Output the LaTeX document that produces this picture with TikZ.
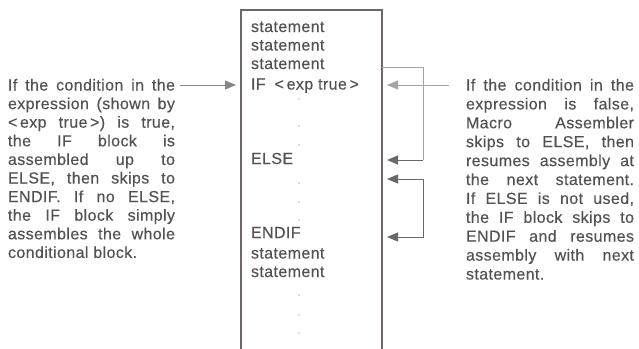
\documentclass[tikz,border=0pt]{standalone}
\usepackage{fontspec}
\setmainfont{Liberation Sans}[LetterSpace=2.5,FakeBold=0.35]
\usetikzlibrary{arrows.meta}
\definecolor{txt}{HTML}{555055}
\definecolor{ln}{HTML}{6E656D}
\definecolor{lnlight}{HTML}{A8A2A8}
\definecolor{dotc}{HTML}{BDB8BD}
\begin{document}
\begin{tikzpicture}[x=1pt,y=-1pt,
  every node/.style={inner sep=0pt,outer sep=0pt,text=txt,font=\fontsize{16}{18}\selectfont},
  ll/.style={anchor=base west},
  head/.tip={Triangle[length=11pt,width=9pt]},
  tip/.style={-head},
  bar/.style={draw=ln,line width=1.2pt},
  thin/.style={draw=lnlight,line width=0.8pt},
  dotm/.style={fill=dotc,draw=none}]
\useasboundingbox (0,0) rectangle (639,348);
% box
\coordinate (bl) at (241,350);
\coordinate (tl) at (241,10);
\coordinate (tr) at (382,10);
\coordinate (br) at (382,350);
\draw[bar] (bl) -- (tl) -- (tr) -- (br);
% box text
\node[ll] (s1) at (251,32) {statement};
\node[ll] (s2) at (251,50.5) {statement};
\node[ll] (s3) at (251,69) {statement};
\node[ll] (if) at (251,89.5) {IF\hspace{9pt}<\,exp true\,>};
\node[ll] (else) at (251,164) {ELSE};
\node[ll] (endif) at (251,238) {ENDIF};
\node[ll] (s4) at (251,258.5) {statement};
\node[ll] (s5) at (251,277) {statement};
% dots
\foreach \yy [count=\i] in {99,126,145,183,202,220,295,315,333}
  \fill[dotm] (299,\yy) circle (0.8pt);
% left text
\foreach \t [count=\i] in {
  {If the condition in the},
  {expression (shown by},
  {<\,exp true\,>) is true,},
  {the IF block is},
  {assembled up to},
  {ELSE, then skips to},
  {ENDIF. If no ELSE,},
  {the IF block simply},
  {assembles the whole}}
  \node[ll] (L\i) at (8,{90.5+(\i-1)*18.6}) {\makebox[167pt][s]{\t}};
\node[ll] (L10) at (8,{90.5+9*18.6}) {conditional block.};
% right text
\foreach \t [count=\i] in {
  {If the condition in the},
  {expression is false,},
  {Macro Assembler},
  {skips to ELSE, then},
  {resumes assembly at},
  {the next statement.},
  {If ELSE is not used,},
  {the IF block skips to},
  {ENDIF and resumes},
  {assembly with next}}
  \node[ll] (R\i) at (466,{90.5+(\i-1)*18.9}) {\makebox[168pt][s]{\t}};
\node[ll] (R11) at (466,{90.5+10*18.9}) {statement.};
% arrows
\coordinate (la) at (180,85);
\coordinate (lb) at (236,85);
\draw[draw=ln!80,tip,line width=0.9pt] (la) -- (lb);
\coordinate (ra) at (449,85);
\coordinate (rb) at (387,85);
\draw[thin,tip] (ra) -- (rb);
% bracket 1
\coordinate (b1a) at (382,67);
\coordinate (b1b) at (423,67);
\coordinate (b1c) at (423,160);
\coordinate (b1d) at (387,160);
\draw[thin] (b1a) -- (b1b) -- (b1c);
\draw[bar,line width=1pt,tip] (b1c) -- (b1d);
% bracket 2
\coordinate (b2a) at (387,179);
\coordinate (b2b) at (423,179);
\coordinate (b2c) at (423,237);
\coordinate (b2d) at (387,237);
\draw[bar,line width=1pt,head-head] (b2a) -- (b2b) -- (b2c) -- (b2d);
\end{tikzpicture}
\end{document}
